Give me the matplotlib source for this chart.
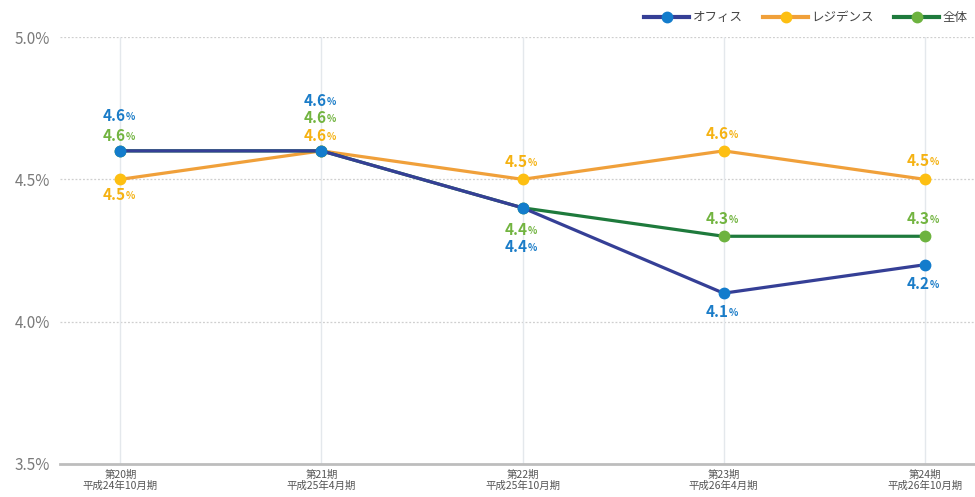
"""Distribution yield by fiscal period: office, residence and portfolio total."""

import matplotlib

matplotlib.use("Agg")
import matplotlib.pyplot as plt
from matplotlib.lines import Line2D

plt.rcParams["font.family"] = ["Noto Sans CJK JP", "DejaVu Sans"]

PERIODS = [
    "第20期\n平成24年10月期",
    "第21期\n平成25年4月期",
    "第22期\n平成25年10月期",
    "第23期\n平成26年4月期",
    "第24期\n平成26年10月期",
]
OFFICE = [4.6, 4.6, 4.4, 4.1, 4.2]
RESIDENCE = [4.5, 4.6, 4.5, 4.6, 4.5]
TOTAL = [4.6, 4.6, 4.4, 4.3, 4.3]
Y_TICKS = [3.5, 4.0, 4.5, 5.0]

# line colour, marker colour, label colour
STYLES = {
    "オフィス": ("#353f96", "#137ccc", "#1a7cc8"),
    "レジデンス": ("#f0a03a", "#fdbf12", "#f5b212"),
    "全体": ("#1e7a3c", "#6db33f", "#72b440"),
}

# vertical label offsets in pixels per point (positive = above)
LABEL_DY = {
    "オフィス": [35, 50, -39, -19, -19],
    "レジデンス": [-16, 15, 17, 17, 18],
    "全体": [15, 33, -22, 17, 17],
}


def draw_series(ax, name, values, zorder):
    line_c, marker_c, _ = STYLES[name]
    x = range(len(values))
    ax.plot(x, values, color=line_c, lw=2.3, zorder=zorder, solid_capstyle="round")
    ax.plot(x, values, ls="none", marker="o", ms=7.5, mfc=marker_c, mec=marker_c,
            zorder=zorder + 0.5)


def draw_labels(ax, name, values):
    label_c = STYLES[name][2]
    for i, (v, dy) in enumerate(zip(values, LABEL_DY[name])):
        ax.annotate(f"{v:.1f}", (i, v), xytext=(5, dy), textcoords="offset pixels",
                    ha="right", va="center", color=label_c, fontsize=11,
                    fontweight="bold", zorder=10)
        ax.annotate("%", (i, v), xytext=(5, dy - 1), textcoords="offset pixels",
                    ha="left", va="center", color=label_c, fontsize=7,
                    fontweight="bold", zorder=10)


fig = plt.figure(figsize=(9.75, 4.97), dpi=100)
ax = fig.add_axes([60 / 975, 1 - 464 / 497, 1 - 60 / 975, (464 - 37) / 497])

draw_series(ax, "レジデンス", RESIDENCE, 3)
draw_series(ax, "全体", TOTAL, 4)
draw_series(ax, "オフィス", OFFICE, 5)
draw_labels(ax, "オフィス", OFFICE)
draw_labels(ax, "レジデンス", RESIDENCE)
draw_labels(ax, "全体", TOTAL)

ax.set_xlim(-0.3, 4.25)
ax.set_ylim(3.5, 5.0)
ax.set_yticks(Y_TICKS)
ax.set_yticklabels([f"{t:.1f}%" for t in Y_TICKS])
ax.set_xticks(range(len(PERIODS)))
ax.set_xticklabels(PERIODS, fontsize=7.5, color="#555555", linespacing=1.1)
ax.tick_params(axis="y", length=0, labelsize=11, labelcolor="#7a7a7a", pad=7)
ax.tick_params(axis="x", length=0, pad=4)

for t in Y_TICKS[1:]:
    ax.axhline(t, color="#cfcfcf", lw=0.9, ls=(0, (1.5, 1.5)), zorder=1)
for i in range(len(PERIODS)):
    ax.axvline(i, color="#e4e8ec", lw=1.0, zorder=1)

for side in ("top", "right", "left"):
    ax.spines[side].set_visible(False)
ax.spines["bottom"].set_color("#bdbdbd")
ax.spines["bottom"].set_linewidth(2)

handles = [
    Line2D([], [], color=STYLES[n][0], lw=3, marker="o", ms=7.5,
           mfc=STYLES[n][1], mec=STYLES[n][1])
    for n in STYLES
]
fig.legend(handles, list(STYLES), loc="center right",
           bbox_to_anchor=(968 / 975, 1 - 18 / 497), ncol=3, frameon=False,
           fontsize=9, handlelength=3.6, handletextpad=0.3, columnspacing=1.6,
           labelcolor="#444444", borderaxespad=0, borderpad=0)

fig.savefig("out.png", dpi=100)
